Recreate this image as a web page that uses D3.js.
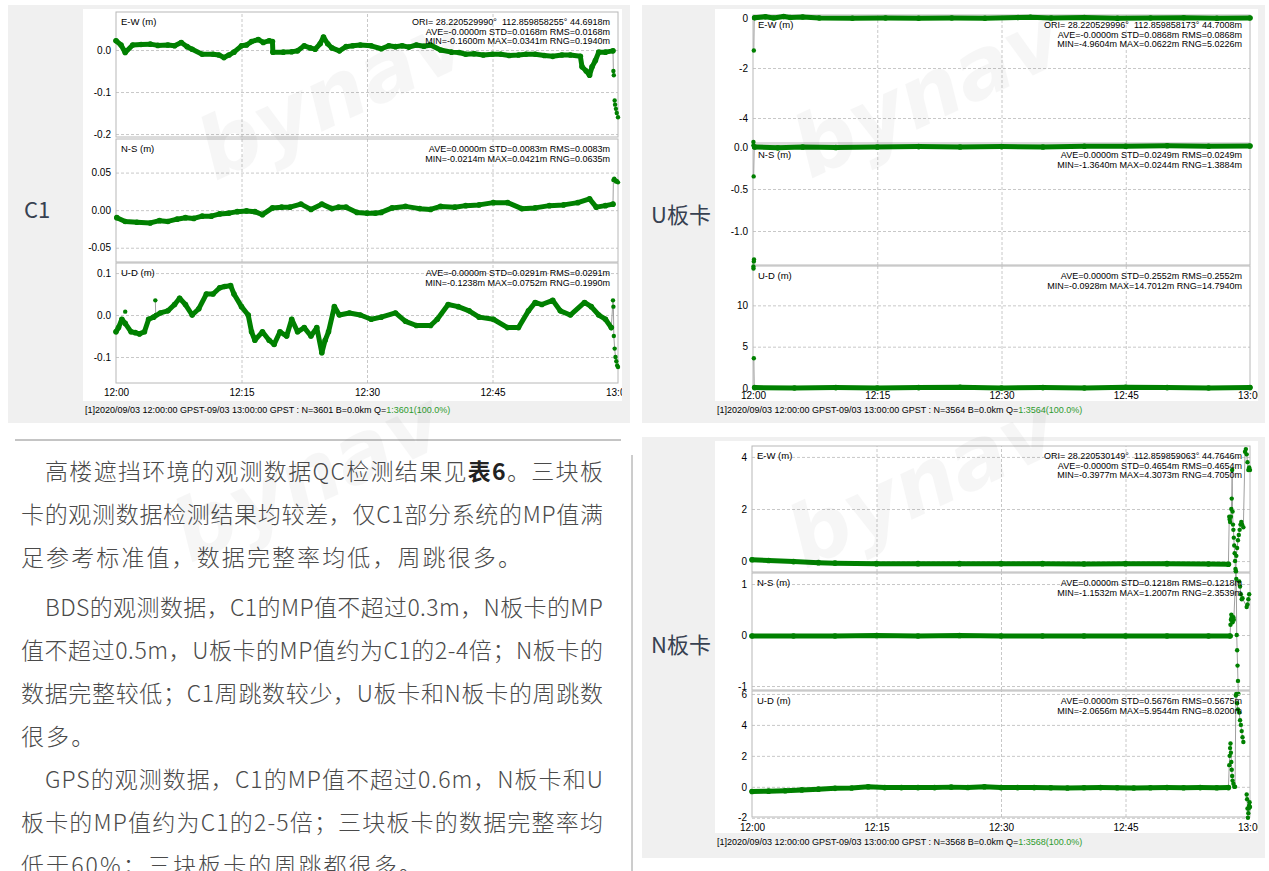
<!DOCTYPE html>
<html>
<head>
<meta charset="utf-8">
<title>QC</title>
<script src="https://cdnjs.cloudflare.com/ajax/libs/d3/7.8.5/d3.min.js"></script>
<style>
body { margin:0; background:#fff; }
svg { display:block; font-family:"Liberation Sans", Arial, sans-serif; }
.ax .domain { display:none; }
.ax line { stroke:#c8c8c8; stroke-dasharray:3,2; }
.ax text { font-size:10px; fill:#000; }
.xax text { font-size:10px; fill:#000; }
.xax .domain, .xax line { display:none; }
.stat { font-size:9px; fill:#000; white-space:pre; }
.para { font-family:"Noto Sans CJK SC", sans-serif; font-size:23px; fill:#4a4a4a; font-weight:300; letter-spacing:2.1px; }
</style>
</head>
<body>
<svg id="chart" width="1269" height="871"></svg>
<script>
// x axis (minutes after 12:00)
var timeTicks = [0, 15, 30, 45, 60];
var timeLabels = ["12:00", "12:15", "12:30", "12:45", "13:00"];

// ---- C1 ----
var c1EW = [[0,0.022],[0.6,0.012],[1.1,-0.006],[2.0,0.012],[3,0.013],[4.1,0.014],[5,0.011],[6.2,0.012],[7,0.01],[7.8,0.018],[8.5,0.008],[9.1,0.002],[10.3,-0.01],[11.6,-0.01],[12.3,-0.012],[12.9,-0.018],[13.5,-0.012],[14.1,-0.005],[15.0,0.01],[15.6,0.012],[16.2,0.02],[17.0,0.025],[17.6,0.018],[18.3,0.022],[18.7,0.02],[18.75,-0.005],[20.0,-0.005],[21.0,-0.004],[21.7,-0.002],[22.5,0.01],[23.2,0.005],[23.8,0.002],[24.4,0.015],[24.8,0.031],[25.3,0.015],[25.8,0.005],[26.7,-0.002],[27.5,0.008],[28.3,0.01],[29.2,0.012],[30.5,0.01],[31.7,0.003],[32.6,0.01],[33.4,0.008],[34.2,0.01],[35.0,0.007],[35.9,0.012],[36.8,0.009],[37.6,0.012],[38.8,0.0],[40.1,-0.005],[41.0,-0.006],[41.8,-0.01],[42.8,-0.009],[43.9,-0.012],[45,-0.01],[46,-0.01],[47,-0.013],[48.1,-0.012],[49,-0.01],[50.1,-0.01],[51.2,-0.013],[52.2,-0.015],[53.3,-0.012],[54.3,-0.012],[55.5,-0.015],[55.7,-0.04],[56.2,-0.05],[56.6,-0.06],[56.9,-0.04],[57.3,-0.025],[57.7,-0.005],[58.5,-0.005],[59.4,-0.002]];
var c1EWDots = [[59.4,-0.002],[59.45,-0.05],[59.5,-0.06],null,[59.6,-0.12],[59.65,-0.13],[59.75,-0.14],[59.85,-0.15],[60,-0.16]];
var c1NS = [[0.1,-0.01],[1.1,-0.015],[2.5,-0.016],[4.1,-0.017],[5.2,-0.014],[6.2,-0.015],[7.3,-0.012],[8.3,-0.01],[9.3,-0.011],[10.3,-0.008],[11.4,-0.008],[12.4,-0.005],[13.5,-0.004],[14.5,-0.002],[15.6,-0.001],[16.6,-0.002],[17.5,-0.006],[18.7,0.003],[19.8,0.004],[20.8,0.004],[22.1,0.008],[23.3,0.001],[24.6,0.008],[25.8,0.002],[26.6,0.004],[27.5,0.004],[28.8,-0.003],[30.0,-0.004],[31.0,-0.004],[31.7,-0.003],[33.0,0.003],[34.6,0.005],[36.3,0.002],[37.6,0.001],[38.8,0.005],[40.5,0.004],[41.8,0.006],[43.4,0.007],[45.1,0.01],[46.8,0.01],[48.5,0.002],[50.1,0.003],[51.8,0.006],[53.5,0.007],[55.2,0.01],[56.6,0.015],[57.4,0.004],[58.5,0.006],[59.4,0.008]];
var c1NSDots = [[59.4,0.008],[59.45,0.04],[59.55,0.042],[59.65,0.04],[59.75,0.038],[59.85,0.039],[60,0.037]];
var c1UD = [[0,-0.04],[0.3,-0.03],[0.7,-0.01],[1.1,-0.02],[1.8,-0.04],[2.3,-0.042],[2.8,-0.045],[3.4,-0.04],[3.9,-0.01],[4.5,-0.005],[5.3,0.005],[6.2,0.01],[7.0,0.025],[7.6,0.04],[8.3,0.025],[9.1,0.0],[9.9,0.015],[10.8,0.05],[11.6,0.05],[12.4,0.065],[13.0,0.068],[13.7,0.07],[14.1,0.05],[15.0,0.02],[15.8,0.0],[16.2,-0.04],[16.6,-0.06],[17.5,-0.04],[18.3,-0.06],[18.9,-0.07],[19.6,-0.04],[20.4,-0.05],[21.0,-0.01],[21.7,-0.04],[22.5,-0.03],[23.3,-0.05],[24.0,-0.03],[24.6,-0.09],[25.0,-0.06],[25.4,-0.04],[26.1,0.02],[26.7,0.0],[27.9,0.005],[29.2,0.0],[30.5,-0.01],[31.7,-0.005],[33.4,0.005],[34.6,-0.015],[35.9,-0.025],[37.6,-0.025],[38.4,-0.01],[39.7,0.025],[40.9,0.02],[42.2,0.01],[43.4,-0.005],[45.1,-0.01],[46.8,-0.03],[48.1,-0.03],[49.3,0.01],[50.1,0.03],[50.9,0.025],[52.2,0.035],[53.1,0.01],[54.3,0.0],[56.0,0.03],[56.8,0.02],[57.7,0.0],[58.5,-0.01],[59.2,-0.03]];
var c1UDDots = [[1.1,0.008],null,[4.7,0.035],[4.75,0.0],null,[59.2,-0.03],[59.4,0.035],[59.45,0.02],[59.5,-0.05],[59.6,-0.08],[59.7,-0.1],[59.8,-0.11],[59.9,-0.12],[60,-0.124]];

// ---- U board ----
var uEW = [[0.2,0.01],[1.5,0.05],[2.5,0.0],[3.7,0.06],[4.5,0.02],[6,0.04],[8,0.0],[12,-0.01],[16,0.0],[20,-0.01],[24,0.0],[28,-0.01],[32,0.02],[33.5,0.03],[36,0.0],[40,0.02],[44,-0.01],[48,0.0],[52,0.01],[56,-0.01],[60,0.0]];
var uEWDots = [[0.05,-4.96],null,[0.1,-1.3],[0.15,0.0]];
var uNS = [[0.2,0.0],[3,-0.01],[6,0.0],[10,-0.005],[15,0.0],[20,0.005],[25,0.0],[30,0.005],[35,0.0],[40,0.01],[45,0.01],[50,0.015],[55,0.01],[60,0.012]];
var uNSDots = [[0.05,0.02],null,[0.1,-1.364],[0.12,-1.34],null,[0.08,-0.35],[0.15,0.0]];
var uUD = [[0.2,0.05],[5,0.0],[10,0.05],[15,0.0],[20,0.05],[25,0.1],[30,0.0],[35,0.05],[40,0.0],[45,0.1],[50,0.05],[55,0.0],[60,0.05]];
var uUDDots = [[0.05,14.7],[0.06,14.45],null,[0.1,3.6],[0.15,0.05]];

// ---- N board ----
var nEW = [[0,0.05],[2,0.02],[5,-0.02],[8,-0.06],[10,-0.08],[15,-0.1],[20,-0.1],[25,-0.1],[30,-0.1],[35,-0.1],[40,-0.11],[45,-0.1],[50,-0.1],[55,-0.11],[57.4,-0.12]];
var nEWDots = [[57.4,-0.12],[57.5,1.7],[57.55,1.6],[57.6,1.5],[57.7,1.7],[57.75,2.0],[57.8,2.4],[57.85,3.5],[57.9,1.9],[57.95,1.4],[58.0,1.2],[58.05,0.9],[58.1,0.6],[58.15,0.3],[58.2,0.0],[58.25,-0.3],[58.3,-0.4],[58.35,0.2],[58.45,0.5],[58.55,0.8],[58.65,1.0],[58.75,1.2],[58.85,1.4],[58.95,1.5],[59.05,1.4],[59.2,1.3],[59.4,4.2],[59.5,4.3],[59.6,4.1],[59.7,3.8],[59.8,3.5],[59.9,3.6],[60,3.5]];
var nNS = [[0,-0.02],[5,-0.02],[10,-0.02],[15,-0.01],[20,-0.02],[25,-0.01],[30,-0.02],[35,-0.02],[40,-0.02],[45,-0.02],[50,-0.02],[55,-0.02],[57.6,-0.02]];
var nNSDots = [[57.6,-0.02],[57.65,0.2],[57.7,0.3],[57.75,0.4],[57.8,0.35],[57.9,0.25],[58.0,0.35],[58.05,0.3],[58.3,1.25],[58.35,1.1],[58.4,0.0],[58.45,-0.3],[58.5,-0.6],[58.55,-0.9],[58.6,-1.15],null,[58.7,1.05],[58.8,0.95],[58.9,0.8],[59.0,0.7],[59.1,0.72],[59.6,0.55],[59.7,0.6],[59.8,0.7],[59.9,0.8]];
var nUD = [[0,-0.3],[2,-0.28],[4,-0.25],[6,-0.2],[8,-0.15],[10,-0.1],[12,-0.08],[14,0.0],[16,-0.05],[18,-0.05],[20,-0.05],[22,-0.05],[24,-0.02],[26,-0.04],[28,0.0],[30,-0.05],[32,-0.05],[34,-0.05],[36,-0.06],[38,-0.08],[40,-0.06],[42,-0.05],[44,-0.06],[46,-0.08],[48,-0.06],[50,-0.05],[52,-0.06],[54,-0.05],[56,-0.06],[57.4,-0.05]];
var nUDDots = [[57.4,-0.05],[57.5,1.4],[57.55,2.0],[57.6,2.5],[57.65,2.8],[57.7,2.2],[57.75,1.6],[57.8,1.1],[57.85,0.7],[57.9,0.4],[58.0,0.2],[58.1,0.0],[58.2,0.0],[58.3,5.9],[58.35,6.0],[58.45,5.4],[58.55,5.0],[58.7,4.8],[58.8,4.3],[58.9,4.0],[59.0,3.6],[59.1,3.2],[59.2,2.9],null,[59.6,-0.5],[59.65,-0.8],[59.7,-1.4],[59.75,-2.0],[59.8,-1.7],[59.85,-1.4],[59.9,-1.2],[59.95,-1.0],[60,-1.3]];

// tick labels of each sub plot
var c1EWTicks = ["0.0", "-0.1", "-0.2"];
var c1NSTicks = ["0.05", "0.00", "-0.05"];
var c1UDTicks = ["0.1", "0.0", "-0.1"];
var uEWTicks = ["0", "-2", "-4"];
var uNSTicks = ["0.0", "-0.5", "-1.0"];
var uUDTicks = ["0", "5", "10"];
var nEWTicks = ["0", "2", "4"];
var nNSTicks = ["1", "0", "-1"];
var nUDTicks = ["6", "4", "2", "0", "-2"];

// statistics printed in each sub plot
var c1EWStats = ["ORI= 28.220529990°  112.859858255° 44.6918m", "AVE=-0.0000m STD=0.0168m RMS=0.0168m", "MIN=-0.1600m MAX=0.0341m RNG=0.1940m"];
var c1NSStats = ["AVE=0.0000m STD=0.0083m RMS=0.0083m", "MIN=-0.0214m MAX=0.0421m RNG=0.0635m"];
var c1UDStats = ["AVE=-0.0000m STD=0.0291m RMS=0.0291m", "MIN=-0.1238m MAX=0.0752m RNG=0.1990m"];
var uEWStats = ["ORI= 28.220529996°  112.859858173° 44.7008m", "AVE=-0.0000m STD=0.0868m RMS=0.0868m", "MIN=-4.9604m MAX=0.0622m RNG=5.0226m"];
var uNSStats = ["AVE=0.0000m STD=0.0249m RMS=0.0249m", "MIN=-1.3640m MAX=0.0244m RNG=1.3884m"];
var uUDStats = ["AVE=0.0000m STD=0.2552m RMS=0.2552m", "MIN=-0.0928m MAX=14.7012m RNG=14.7940m"];
var nEWStats = ["ORI= 28.220530149°  112.859859063° 44.7646m", "AVE=-0.0000m STD=0.4654m RMS=0.4654m", "MIN=-0.3977m MAX=4.3073m RNG=4.7050m"];
var nNSStats = ["AVE=0.0000m STD=0.1218m RMS=0.1218m", "MIN=-1.1532m MAX=1.2007m RNG=2.3539m"];
var nUDStats = ["AVE=0.0000m STD=0.5676m RMS=0.5675m", "MIN=-2.0656m MAX=5.9544m RNG=8.0200m"];

var paraLines = [
	"高楼遮挡环境的观测数据QC检测结果见表6。三块板",
	"卡的观测数据检测结果均较差，仅C1部分系统的MP值满",
	"足参考标准值，数据完整率均低，周跳很多。",
	"BDS的观测数据，C1的MP值不超过0.3m，N板卡的MP",
	"值不超过0.5m，U板卡的MP值约为C1的2-4倍；N板卡的",
	"数据完整较低；C1周跳数较少，U板卡和N板卡的周跳数",
	"很多。",
	"GPS的观测数据，C1的MP值不超过0.6m，N板卡和U",
	"板卡的MP值约为C1的2-5倍；三块板卡的数据完整率均",
	"低于60%；三块板卡的周跳都很多。"
];

var green = "#008000";
var svg = d3.select("#chart");

//Layout of the three plot windows
var panels = [
	{name: "C1", bg: [8, 5, 622, 418], win: [83, 9, 539, 392], xr: [116, 618], nameX: 37, nameY: 210, pad: 6,
	 status: {y: 409, n: "3601"},
	 subs: [
		{label: "E-W (m)", y0: 12, y1: 137, dom: [-0.207, 0.0905], ticks: c1EWTicks, track: c1EW, dots: c1EWDots, stats: c1EWStats},
		{label: "N-S (m)", y0: 139, y1: 262, dom: [-0.069, 0.0947], ticks: c1NSTicks, track: c1NS, dots: c1NSDots, stats: c1NSStats},
		{label: "U-D (m)", y0: 263, y1: 383, dom: [-0.162, 0.124], ticks: c1UDTicks, track: c1UD, dots: c1UDDots, stats: c1UDStats}]},
	{name: "U板卡", bg: [642, 5, 623, 418], win: [715, 9, 543, 392], xr: [753, 1250], nameX: 681, nameY: 215, pad: 3,
	 status: {y: 409, n: "3564"},
	 subs: [
		{label: "E-W (m)", y0: 15, y1: 143, dom: [-5.0, 0.12], ticks: uEWTicks, track: uEW, dots: uEWDots, stats: uEWStats},
		{label: "N-S (m)", y0: 145, y1: 265, dom: [-1.405, 0.024], ticks: uNSTicks, track: uNS, dots: uNSDots, stats: uNSStats},
		{label: "U-D (m)", y0: 266, y1: 389, dom: [-0.12, 14.76], ticks: uUDTicks, track: uUD, dots: uUDDots, stats: uUDStats}]},
	{name: "N板卡", bg: [642, 437, 623, 421], win: [715, 441, 543, 392], xr: [752, 1250], nameX: 681, nameY: 645, pad: 7,
	 status: {y: 841, n: "3568"},
	 subs: [
		{label: "E-W (m)", y0: 446, y1: 572, dom: [-0.42, 4.42], ticks: nEWTicks, track: nEW, dots: nEWDots, stats: nEWStats},
		{label: "N-S (m)", y0: 573, y1: 690, dom: [-1.078, 1.216], ticks: nNSTicks, track: nNS, dots: nNSDots, stats: nNSStats},
		{label: "U-D (m)", y0: 691, y1: 817, dom: [-1.95, 6.19], ticks: nUDTicks, track: nUD, dots: nUDDots, stats: nUDStats}]}
];

function drawPanel(p, pi) {
	var g = svg.append("g");
	g.append("rect").attr("x", p.bg[0]).attr("y", p.bg[1]).attr("width", p.bg[2]).attr("height", p.bg[3]).attr("fill", "#f0f0f0");
	g.append("rect").attr("x", p.win[0]).attr("y", p.win[1]).attr("width", p.win[2]).attr("height", p.win[3]).attr("fill", "#fff");
	g.append("text").attr("x", p.nameX).attr("y", p.nameY + 8).attr("text-anchor", "middle")
		.style("font-family", "'Noto Sans CJK SC', sans-serif").style("font-size", "22px").attr("fill", "#374151")
		.text(p.name);

	var clipId = "clip" + pi;
	svg.append("clipPath").attr("id", clipId).append("rect")
		.attr("x", p.win[0]).attr("y", p.win[1]).attr("width", p.win[2]).attr("height", p.win[3]);
	//time labels are cut only at the right edge of the window
	svg.append("clipPath").attr("id", clipId + "x").append("rect")
		.attr("x", p.win[0]).attr("y", p.win[1]).attr("width", p.win[2]).attr("height", p.win[3] + 12);

	var x = d3.scaleLinear().domain([0, 60]).range(p.xr);
	var w = p.xr[1] - p.xr[0];

	p.subs.forEach(function(s) {
		var y = d3.scaleLinear().domain(s.dom).range([s.y1, s.y0]);
		var vals = s.ticks.map(Number);
		//horizontal grid + tick labels
		g.append("g").attr("class", "ax").attr("transform", "translate(" + p.xr[0] + ",0)")
			.call(d3.axisLeft(y).tickValues(vals).tickFormat(function(d, i) { return s.ticks[i]; }).tickSize(-w).tickPadding(5));
		//vertical grid
		g.append("g").attr("class", "ax").attr("transform", "translate(0," + s.y1 + ")")
			.call(d3.axisBottom(x).tickValues(timeTicks.slice(1, 4)).tickSize(-(s.y1 - s.y0)).tickFormat(""));
		//frame
		g.append("rect").attr("x", p.xr[0]).attr("y", s.y0).attr("width", w).attr("height", s.y1 - s.y0)
			.attr("fill", "none").attr("stroke", "#b8b8b8");

		var data = g.append("g").attr("clip-path", "url(#" + clipId + ")");
		var line = d3.line().defined(function(d) { return d; }).x(function(d) { return x(d[0]); }).y(function(d) { return y(d[1]); });
		data.append("path").attr("d", line(s.dots)).attr("fill", "none").attr("stroke", "#a0a0a0").attr("stroke-width", 1);
		data.append("path").attr("d", line(s.track)).attr("fill", "none").attr("stroke", green)
			.attr("stroke-width", 5).attr("stroke-linejoin", "round").attr("stroke-linecap", "round");
		data.selectAll(".tp").data(s.track).enter().append("circle")
			.attr("cx", function(d) { return x(d[0]); }).attr("cy", function(d) { return y(d[1]); }).attr("r", 2.8).attr("fill", green);
		data.selectAll(".dp").data(s.dots.filter(function(d) { return d; })).enter().append("circle")
			.attr("cx", function(d) { return x(d[0]); }).attr("cy", function(d) { return y(d[1]); }).attr("r", 2.2).attr("fill", green);

		g.append("text").attr("class", "stat").attr("x", p.xr[0] + 5).attr("y", s.y0 + 13).style("font-size", "9.5px").text(s.label);
		s.stats.forEach(function(t, i) {
			g.append("text").attr("class", "stat").attr("x", p.xr[1] - 8).attr("y", s.y0 + 13 + i * 9.5)
				.attr("text-anchor", "end").text(t);
		});
	});

	//time axis (clip on an outer group so the clip box is not moved by the axis transform)
	var last = p.subs[p.subs.length - 1];
	g.append("g").attr("clip-path", "url(#" + clipId + "x)")
		.append("g").attr("class", "xax")
		.attr("transform", "translate(0," + last.y1 + ")")
		.call(d3.axisBottom(x).tickValues(timeTicks).tickFormat(function(d, i) { return timeLabels[i]; }).tickSize(0).tickPadding(p.pad));

	//status bar
	var st = g.append("text").attr("class", "stat").attr("x", p.win[0] + 2).attr("y", p.status.y + 3.5).style("font-size", "9px");
	st.append("tspan").text("[1]2020/09/03 12:00:00 GPST-09/03 13:00:00 GPST : N=" + p.status.n + " B=0.0km Q=");
	st.append("tspan").attr("fill", "#2e9b2e").text("1:" + p.status.n + "(100.0%)");
}

panels.forEach(drawPanel);

//text column
svg.append("line").attr("x1", 15).attr("x2", 621).attr("y1", 440).attr("y2", 440).attr("stroke", "#8a8a8a");
svg.append("line").attr("x1", 632).attr("x2", 632).attr("y1", 455).attr("y2", 871).attr("stroke", "#9a9a9a");

var lineY = [472, 515, 558, 608, 651, 694, 737, 780, 823, 866];
var indentLines = [0, 3, 7];
var lastLines = [2, 6, 9];
paraLines.forEach(function(t, i) {
	var x0 = indentLines.indexOf(i) >= 0 ? 45 : 21;
	var txt = svg.append("text").attr("class", "para").attr("x", x0).attr("y", lineY[i] + 8);
	if (lastLines.indexOf(i) < 0) txt.attr("textLength", 605 - x0).attr("lengthAdjust", "spacing");
	var parts = t.split("表6");
	txt.append("tspan").text(parts[0]);
	if (parts.length > 1) {
		txt.append("tspan").style("font-weight", "700").attr("fill", "#222").text("表6");
		txt.append("tspan").text(parts[1]);
	}
});

//watermarks
var marks = [[335, 100], [930, 98], [925, 488], [310, 482]];
marks.forEach(function(m) {
	svg.append("text").attr("transform", "translate(" + m[0] + "," + m[1] + ") rotate(-25)")
		.attr("text-anchor", "middle").attr("dominant-baseline", "middle")
		.style("font-family", "'DejaVu Sans', sans-serif").style("font-weight", "bold").style("font-style", "italic")
		.style("font-size", "84px").attr("fill", "#000").attr("opacity", 0.03).text("bynav");
});
</script>
</body>
</html>
